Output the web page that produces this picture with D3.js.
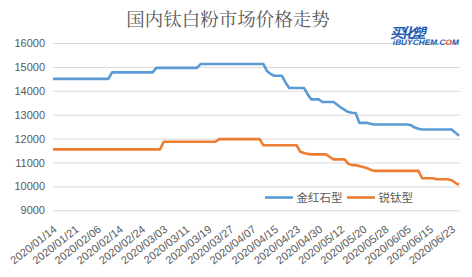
<!DOCTYPE html>
<html>
<head>
<meta charset="utf-8">
<script src="https://cdn.jsdelivr.net/npm/d3@7"></script>
<style>
  body { margin: 0; background: #fff; }
  svg { display: block; }
</style>
</head>
<body>
<div id="chart"></div>
<script>
// trading days (category axis)
const dates = [
  "2020/01/14","2020/01/15","2020/01/16","2020/01/17","2020/01/19","2020/01/20","2020/01/21","2020/01/22","2020/01/23",
  "2020/02/03","2020/02/04","2020/02/05","2020/02/06","2020/02/07","2020/02/10","2020/02/11","2020/02/12","2020/02/13","2020/02/14",
  "2020/02/17","2020/02/18","2020/02/19","2020/02/20","2020/02/21","2020/02/24","2020/02/25","2020/02/26","2020/02/27","2020/02/28",
  "2020/03/02","2020/03/03","2020/03/04","2020/03/05","2020/03/06","2020/03/09","2020/03/10","2020/03/11","2020/03/12","2020/03/13",
  "2020/03/16","2020/03/17","2020/03/18","2020/03/19","2020/03/20","2020/03/23","2020/03/24","2020/03/25","2020/03/26","2020/03/27",
  "2020/03/30","2020/03/31","2020/04/01","2020/04/02","2020/04/03","2020/04/07","2020/04/08","2020/04/09","2020/04/10","2020/04/13",
  "2020/04/14","2020/04/15","2020/04/16","2020/04/17","2020/04/20","2020/04/21","2020/04/22","2020/04/23","2020/04/24","2020/04/26",
  "2020/04/27","2020/04/28","2020/04/29","2020/04/30","2020/05/06","2020/05/07","2020/05/08","2020/05/09","2020/05/11","2020/05/12",
  "2020/05/13","2020/05/14","2020/05/15","2020/05/18","2020/05/19","2020/05/20","2020/05/21","2020/05/22","2020/05/25","2020/05/26",
  "2020/05/27","2020/05/28","2020/05/29","2020/06/01","2020/06/02","2020/06/03","2020/06/04","2020/06/05","2020/06/08","2020/06/09",
  "2020/06/10","2020/06/11","2020/06/12","2020/06/15","2020/06/16","2020/06/17","2020/06/18","2020/06/19","2020/06/22","2020/06/23",
  "2020/06/24","2020/06/28"
];

// labelled categories on the x axis
const tickLabels = [
  "2020/01/14","2020/01/21","2020/02/06","2020/02/14","2020/02/24","2020/03/03","2020/03/11",
  "2020/03/19","2020/03/27","2020/04/07","2020/04/15","2020/04/23","2020/04/30","2020/05/12",
  "2020/05/20","2020/05/28","2020/06/05","2020/06/15","2020/06/23"
];

// 金红石型 (rutile)
const rutile = [
  14500,14500,14500,14500,14500,14500,14500,14500,14500,14500,14500,14500,14500,14500,14500,14500,
  14770,14770,14770,14770,14770,14770,14770,14770,14770,14770,14770,14770,
  14960,14960,14960,14960,14960,14960,14960,14960,14960,14960,14960,14960,
  15120,15120,15120,15120,15120,15120,15120,15120,15120,15120,15120,15120,15120,15120,15120,15120,15120,15120,
  14820,14700,14630,14630,14630,14350,
  14120,14120,14120,14120,14120,13850,
  13640,13640,13640,13530,13530,13530,13530,
  13420,13300,13200,13110,13080,13070,
  12660,12660,12660,12620,
  12590,12590,12590,12590,12590,12590,12590,12590,12590,12590,
  12560,12460,12410,
  12380,12380,12380,12380,12380,12380,12380,12380,12380,
  12250,12120
];

// 锐钛型 (anatase)
const anatase = [
  11550,11550,11550,11550,11550,11550,11550,11550,11550,11550,11550,11550,11550,11550,11550,
  11550,11550,11550,11550,11550,11550,11550,11550,11550,11550,11550,11550,11550,11550,11550,
  11870,11870,11870,11870,11870,11870,11870,11870,11870,11870,11870,11870,11870,11870,11870,
  11980,11980,11980,11980,11980,11980,11980,11980,11980,11980,11980,11980,
  11720,11720,11720,11720,11720,11720,11720,11720,11720,11720,
  11450,11400,11360,
  11340,11340,11340,11340,11340,
  11230,11130,11130,11130,11130,
  10950,10890,10890,10850,10810,10770,10700,
  10650,10650,10650,10650,10650,10650,10650,10650,10650,10650,10650,10650,10650,
  10340,10340,10340,10340,10300,10300,10300,10300,
  10260,10150,10070
];

const yTicks = [9000, 10000, 11000, 12000, 13000, 14000, 15000, 16000];
const seriesNames = ["金红石型", "锐钛型"];
const colors = ["#5b9bd5", "#ed7d31"];

const W = 472, H = 277;
const plot = {left: 53, right: 459, top: 43, bottom: 210.3};

const svg = d3.select("#chart").append("svg")
  .attr("width", W)
  .attr("height", H);

const x = d3.scalePoint()
  .domain(dates)
  .range([plot.left, plot.right]);

const y = d3.scaleLinear()
  .domain([9000, 16000])
  .range([plot.bottom, plot.top]);

// gridlines + y labels
const yAxis = svg.append("g")
  .attr("transform", `translate(${plot.left},0)`)
  .call(d3.axisLeft(y)
    .tickValues(yTicks)
    .tickFormat(d3.format("d"))
    .tickSize(-(plot.right + 1 - plot.left))
    .tickPadding(8));
yAxis.select(".domain").remove();
yAxis.selectAll(".tick line").attr("stroke", "#d9d9d9").attr("stroke-width", 1);
yAxis.selectAll(".tick text")
  .attr("fill", "#595959")
  .style("font", "11px 'Liberation Sans', Arial, sans-serif");

// x labels
const xAxis = svg.append("g")
  .attr("transform", `translate(0,${plot.bottom})`)
  .call(d3.axisBottom(x).tickValues(tickLabels).tickSize(0));
xAxis.select(".domain").remove();
xAxis.selectAll(".tick text")
  .attr("x", 0).attr("y", 0).attr("dy", 0)
  .attr("transform", "translate(4,20.5) rotate(-38)")
  .style("text-anchor", "end")
  .attr("fill", "#595959")
  .style("font", "11px 'Liberation Sans', Arial, sans-serif");

// lines
const line = d3.line()
  .x((d, i) => x(dates[i]))
  .y(d => y(d));

[rutile, anatase].forEach((s, k) => {
  svg.append("path")
    .datum(s)
    .attr("fill", "none")
    .attr("stroke", colors[k])
    .attr("stroke-width", 2.6)
    .attr("stroke-linejoin", "round")
    .attr("d", line);
});

// title
svg.append("text")
  .attr("x", 228)
  .attr("y", 26)
  .attr("text-anchor", "middle")
  .attr("fill", "#595959")
  .style("font", "18.5px 'Noto Serif CJK SC', 'Noto Sans CJK SC', sans-serif")
  .text("国内钛白粉市场价格走势");

// logo
const logo = svg.append("g").attr("transform", "translate(394,0)");
logo.append("text")
  .attr("x", 4).attr("y", 38)
  .attr("fill", "#1d5cb4")
  .attr("transform", "skewX(-12)")
  .style("font", "bold 14px 'Noto Sans CJK SC', sans-serif")
  .attr("textLength", 36)
  .text("买化塑");
logo.append("text")
  .attr("x", 8).attr("y", 45.5)
  .attr("fill", "#1d5cb4")
  .attr("transform", "skewX(-12)")
  .attr("textLength", 66)
  .attr("lengthAdjust", "spacingAndGlyphs")
  .style("font", "bold 8px 'Liberation Sans', Arial, sans-serif")
  .html("iBUYCHEM.C<tspan fill='#e0452a'>O</tspan>M");

// legend
const legend = svg.append("g").attr("transform", "translate(265,197.5)");
const legendX = [0, 82];
seriesNames.forEach((name, k) => {
  const g = legend.append("g").attr("transform", `translate(${legendX[k]},0)`);
  g.append("line")
    .attr("x1", 0).attr("x2", 28)
    .attr("stroke", colors[k])
    .attr("stroke-width", 2.6);
  g.append("text")
    .attr("x", 31.5).attr("y", 4)
    .attr("fill", "#595959")
    .style("font", "11.5px 'Noto Sans CJK SC', sans-serif")
    .text(name);
});
</script>
</body>
</html>
